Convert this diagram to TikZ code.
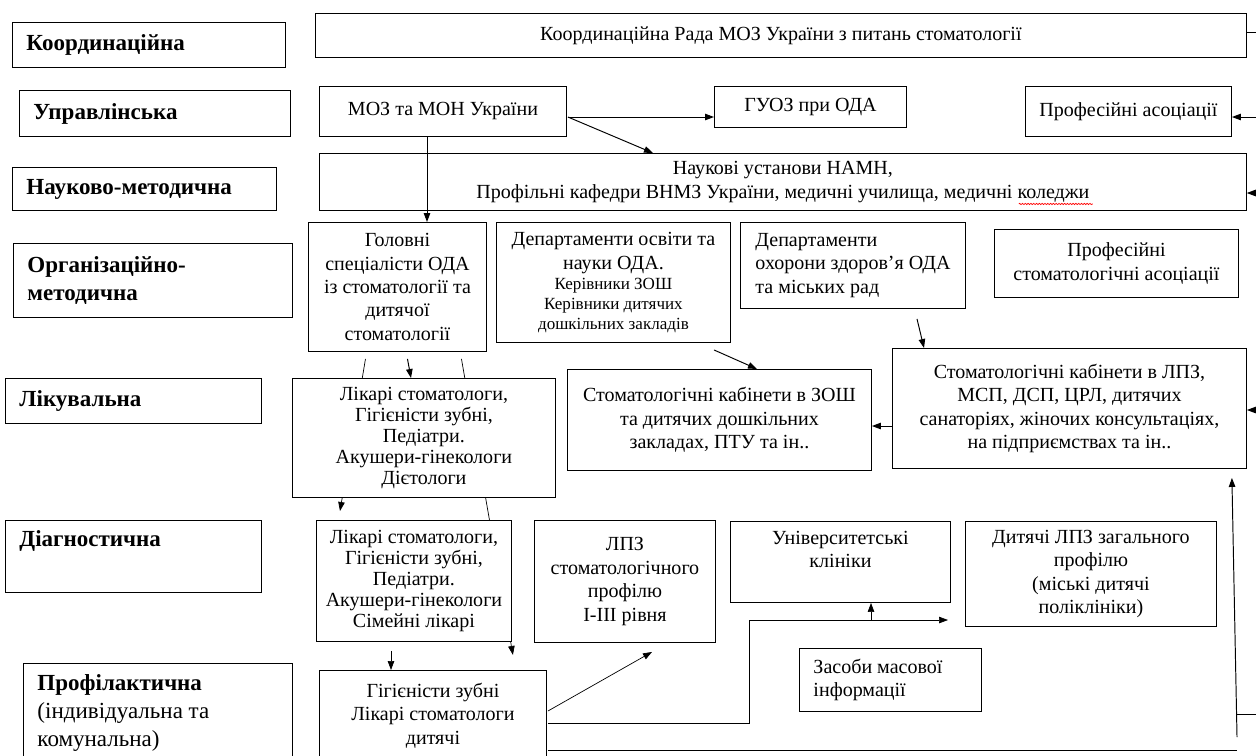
\documentclass[tikz,border=0pt]{standalone}
\usepackage{fontspec}
\setmainfont{Liberation Serif}
\usetikzlibrary{arrows.meta,calc,backgrounds,decorations.pathmorphing}

\newcommand{\txtbody}{\fontsize{11.4}{13.3}\selectfont}
\newcommand{\txtsmall}{\fontsize{9.7}{11.4}\selectfont}
\newcommand{\txtlevel}{\fontsize{13.1}{15.9}\selectfont}

\tikzset{
  box/.style={draw, fill=white, anchor=north west, align=center, font=\txtbody, inner sep=0pt},
  level/.style={draw, fill=white, anchor=north west, align=flush left, font=\txtlevel, inner xsep=0.28cm, inner ysep=0pt},
  arr/.style={-{Triangle[length=1.8mm,width=1.3mm]}},
}

\begin{document}
\begin{tikzpicture}[x=0.02cm, y=-0.02cm, line width=0.55pt]
  \useasboundingbox (0,0) rectangle (1256,755);
  \clip (0,0) rectangle (1256,755);
  % рівні (ліва колонка)
  \node[level, text width=4.90cm, minimum height=0.90cm] (lvlKoord) at (12,22) {\textbf{Координаційна}};
  \node[level, text width=4.86cm, minimum height=0.92cm] (lvlUpr) at (19,90) {\textbf{Управлінська}};
  \node[level, text width=4.72cm, minimum height=0.86cm] (lvlNauk) at (12,167) {\textbf{Науково-методична}};
  \node[level, text width=5.02cm, minimum height=1.48cm] (lvlOrg) at (13,243) {\textbf{Організаційно-}\\\textbf{методична}};
  \node[level, text width=4.56cm, minimum height=0.90cm] (lvlLik) at (5,378) {\textbf{Лікувальна}};
  \node[level, text width=4.56cm, minimum height=1.44cm] (lvlDiag) at (5,520) {\textbf{Діагностична}\\\strut};
  \node[level, text width=4.82cm, minimum height=1.98cm] (lvlProf) at (23,663) {\textbf{Профілактична}\\(індивідуальна та\\комунальна)};
  % установи
  \node[box, minimum width=18.62cm, minimum height=0.88cm] (rada) at (315,13) {Координаційна Рада МОЗ України з питань стоматології};
  \node[box, minimum width=4.94cm, minimum height=1.00cm] (moz) at (319,86) {МОЗ та МОН України};
  \node[box, minimum width=3.84cm, minimum height=0.82cm] (guoz) at (714,86) {ГУОЗ при ОДА};
  \node[box, minimum width=4.12cm, minimum height=1.00cm] (profAs) at (1025,86) {Професійні асоціації};
  \node[box, minimum width=18.54cm, minimum height=1.14cm] (naukovi) at (319,153) {Наукові установи НАМН,\\Профільні кафедри ВНМЗ України, медичні училища, медичні коледжи};
  \node[box, minimum width=3.56cm, minimum height=2.58cm] (golovni) at (308,222) {Головні\\спеціалісти ОДА\\із стоматології та\\дитячої\\стоматології};
  \node[box, align=flush center, text width=4.44cm, minimum width=4.68cm, minimum height=2.40cm] (depOsv) at (496,222) {Департаменти освіти та\\науки ОДА.\par\txtsmall Керівники ЗОШ\\Керівники дитячих\\дошкільних закладів\par};
  \node[box, align=left, minimum width=4.50cm, minimum height=1.72cm] (depOhor) at (740,222) {Департаменти\\охорони здоров’я ОДА\\та міських рад};
  \node[box, minimum width=4.88cm, minimum height=1.36cm] (profStom) at (994,229) {Професійні\\стоматологічні асоціації};
  \node[box, minimum width=5.26cm, minimum height=2.38cm, font=\fontsize{11.4}{12}\selectfont] (likari) at (292,378) {Лікарі стоматологи,\\Гігієністи зубні,\\Педіатри.\\Акушери-гінекологи\\Дієтологи};
  \node[box, minimum width=6.08cm, minimum height=2.02cm] (kabZosh) at (567,369) {Стоматологічні кабінети в ЗОШ\\та дитячих дошкільних\\закладах, ПТУ та ін..};
  \node[box, minimum width=7.08cm, minimum height=2.40cm] (kabLpz) at (892,348) {Стоматологічні кабінети в ЛПЗ,\\МСП, ДСП, ЦРЛ, дитячих\\санаторіях, жіночих консультаціях,\\на підприємствах та ін..};
  \node[box, minimum width=3.90cm, minimum height=2.42cm, font=\fontsize{11.4}{12}\selectfont] (diag) at (316,520) {Лікарі стоматологи,\\Гігієністи зубні,\\Педіатри.\\Акушери-гінекологи\\Сімейні лікарі};
  \node[box, minimum width=3.62cm, minimum height=2.44cm] (lpzStom) at (534,520) {ЛПЗ\\стоматологічного\\профілю\\I-III рівня};
  \node[box, minimum width=4.40cm, minimum height=1.62cm] (univ) at (730,521) {Університетські\\клініки\\[-0.1cm]\strut};
  \node[box, minimum width=5.02cm, minimum height=2.10cm] (dytLpz) at (965,521) {Дитячі ЛПЗ загального\\профілю\\(міські дитячі\\поліклініки)};
  \node[box, align=flush left, text width=3.08cm, minimum width=3.64cm, minimum height=1.26cm] (zasoby) at (799,648) {Засоби масової\\інформації};
  \node[box, minimum width=4.54cm, minimum height=1.80cm] (gigien) at (319,670) {Гігієністи зубні\\Лікарі стоматологи\\дитячі};
  % підкреслення правопису
  \draw[red, line width=0.4pt, decorate, decoration={snake, amplitude=0.35pt, segment length=1.6pt}]
    ($(naukovi.south east)+(-228,-7)$) -- ($(naukovi.south east)+(-154,-7)$);
  % зв'язки зверху
  \coordinate (mozOut) at ($(moz.south west)+(108,0)$);
  \draw[arr] (mozOut) -- (mozOut |- golovni.north);
  \coordinate (mozE) at ($(moz.north east)+(1,31)$);
  \draw[arr] (mozE) -- (mozE -| guoz.west);
  \draw[arr] (mozE) -- ($(naukovi.north west)+(334,0)$);
  % праворуч, за межею
  \coordinate (edgeA) at (1256,32);
  \coordinate (edgeB) at (1256,117);
  \coordinate (edgeC) at (1256,193);
  \coordinate (edgeD) at (1256,410);
  \coordinate (edgeE) at (1256,714);
  \draw (edgeA -| rada.east) -- (edgeA);
  \draw[arr] (edgeB) -- (edgeB -| profAs.east);
  \draw[arr] (edgeC) -- (edgeC -| naukovi.east);
  \draw[arr] (edgeD) -- (edgeD -| kabLpz.east);
  \coordinate (riseBot) at (1237,737);
  \coordinate (riseTop) at ($(kabLpz.south east)+(-15,9)$);
  \draw[arr] (riseBot) -- (riseTop);
  \draw (edgeE) -- (edgeE -| riseBot);
  % департаменти
  \coordinate (osvOut) at ($(depOsv.south west)+(218,7)$);
  \draw[arr] (osvOut) -- ($(kabZosh.north west)+(190,0)$);
  \coordinate (ohorOut) at ($(depOhor.south west)+(177,10)$);
  \draw[arr] (ohorOut) -- ($(kabLpz.north west)+(32,0)$);
  \coordinate (lpzW) at ($(kabLpz.north west)+(0,78)$);
  \draw[arr] (lpzW) -- (lpzW -| kabZosh.east);
  % головні спеціалісти
  \coordinate (golMid) at ($(golovni.south)+(10,7)$);
  \draw[arr] (golMid) -- ($(likari.north west)+(119,0)$);
  \begin{pgfonlayer}{background}
    \coordinate (golL) at ($(golovni.south)+(-32,7)$);
    \coordinate (golR) at ($(golovni.south)+(64,7)$);
    \draw[arr] (golL) -- ($(diag.north west)+(24,-9)$);
    \draw[arr] (golR) -- ($(diag.south east)+(1,13)$);
  \end{pgfonlayer}
  % профілактика
  \coordinate (diagOut) at ($(diag.south west)+(75,9)$);
  \draw[arr] (diagOut) -- (diagOut |- gigien.north);
  \coordinate (gigA) at ($(gigien.north east)+(1,41)$);
  \draw[arr] (gigA) -- ($(lpzStom.south west)+(118,9)$);
  \coordinate (gigB) at ($(gigien.north east)+(1,53)$);
  \coordinate (stepUp) at (749,620);
  \coordinate (dytIn) at ($(dytLpz.north west)+(-17,99)$);
  \draw[arr] (gigB) -| (stepUp) -- (dytIn);
  \coordinate (univIn) at ($(univ.south west)+(141,0)$);
  \draw[arr] (univIn |- stepUp) -- (univIn);
  \coordinate (gigC) at ($(gigien.north east)+(1,80)$);
  \draw (gigC) -- (gigC -| riseBot);
\end{tikzpicture}
\end{document}
